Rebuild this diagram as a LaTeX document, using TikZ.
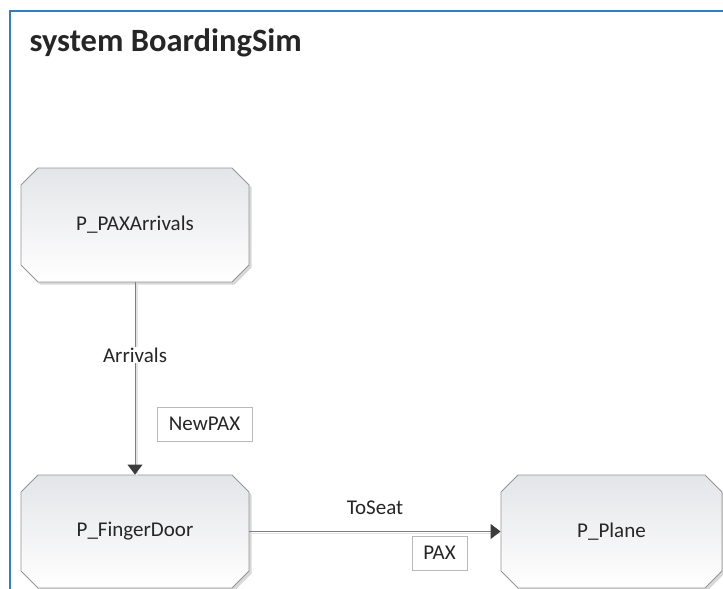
\documentclass[tikz,border=0pt]{standalone}
\usepackage{fontspec}
\setmainfont{Carlito}
\usetikzlibrary{shapes.misc,arrows.meta,shadows}
\definecolor{frameblue}{RGB}{52,125,190}
\definecolor{txt}{RGB}{38,38,38}
\definecolor{proctop}{RGB}{228,229,232}
\definecolor{procline}{RGB}{150,150,150}
\definecolor{edgec}{RGB}{125,125,125}
\definecolor{arrowc}{RGB}{60,60,60}
\tikzset{
  proc/.style={chamfered rectangle, chamfered rectangle xsep=8.5pt, chamfered rectangle ysep=8.5pt,
    draw=procline, line width=0.9pt, top color=proctop, bottom color=white,
    drop shadow={shadow xshift=2.5pt, shadow yshift=-2.5pt, fill=gray!60, opacity=0.5},
    inner sep=0pt, text=txt, font=\fontsize{21}{25}\selectfont},
  edgeline/.style={draw=edgec, line width=1pt, -{Triangle[width=15pt,length=10pt,color=arrowc]}},
  edgeshade/.style={draw=gray!22, line width=1.2pt},
  lbl/.style={text=txt, font=\fontsize{21}{25}\selectfont, inner sep=1pt},
  tagbox/.style={draw=gray!55, fill=white, line width=0.8pt, text=txt, font=\fontsize{21}{25}\selectfont, inner sep=0pt}
}
\begin{document}
\begin{tikzpicture}[x=1pt,y=-1pt]
\useasboundingbox (0,0) rectangle (723,589);
\begin{scope}
\clip (0,0) rectangle (723,589);
\fill[white] (0,0) rectangle (723,589);
\draw[frameblue, line width=2.5pt] (10,11) rectangle (780,650);
\node[anchor=base west, text=txt, font=\fontsize{32.5}{38}\selectfont\bfseries] (title) at (26,51) {system BoardingSim};

\node[proc, minimum width=228pt, minimum height=114pt] (arr) at (135,225) {P\_PAXArrivals};
\node[proc, minimum width=228pt, minimum height=113pt] (fd) at (135,531.5) {P\_FingerDoor};
\node[proc, minimum width=221pt, minimum height=113pt] (pl) at (611.5,531.5) {P\_Plane};

\draw[edgeshade, transform canvas={xshift=2pt,yshift=-2pt}] (arr.south) -- (fd.north);
\draw[edgeshade, transform canvas={xshift=2pt,yshift=-2pt}] (fd.east) -- (pl.west);
\draw[edgeline] (arr.south) -- (fd.north);
\draw[edgeline] (fd.east) -- (pl.west);

\node[lbl, fill=white] (arrlbl) at (135,355) {Arrivals};
\node[tagbox, minimum width=95pt, minimum height=34pt] (newpax) at (204.5,424) {NewPAX};
\node[lbl] (toseat) at (375,508) {ToSeat};
\node[tagbox, minimum width=55pt, minimum height=34pt] (pax) at (439.5,553) {PAX};
\end{scope}
\end{tikzpicture}
\end{document}
